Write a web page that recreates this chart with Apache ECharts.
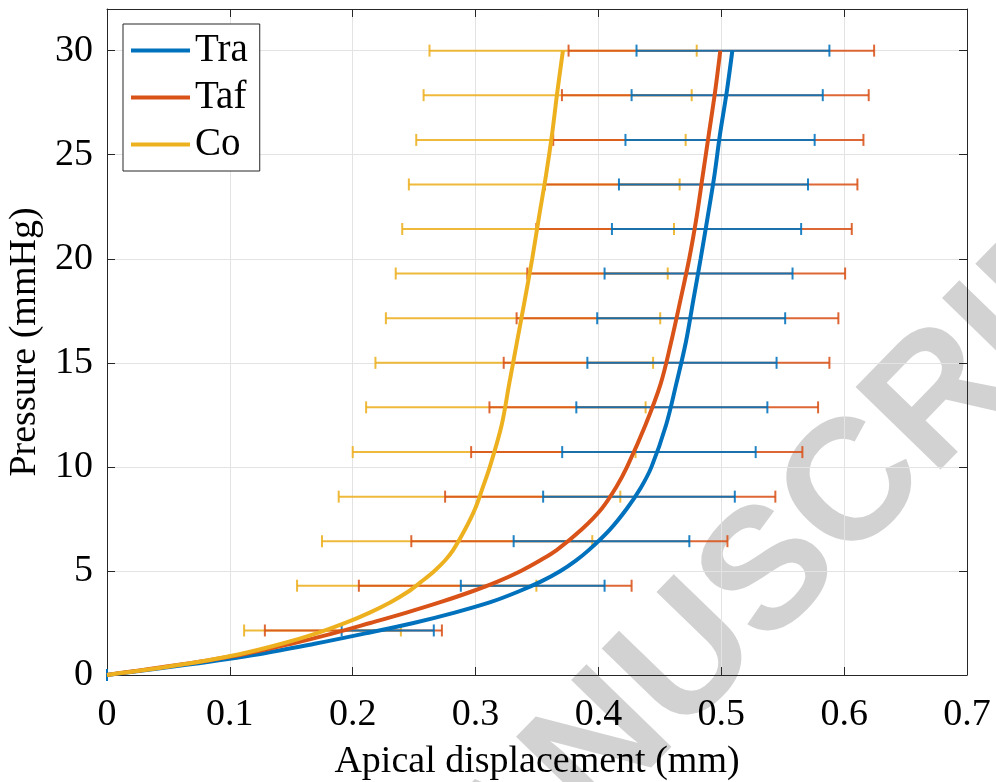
<!DOCTYPE html>
<html>
<head>
<meta charset="utf-8">
<script src="https://cdn.jsdelivr.net/npm/echarts@6/dist/echarts.min.js"></script>
<style>
html,body{margin:0;padding:0;background:#fff;}
#chart{width:996px;height:782px;}
</style>
</head>
<body>
<div id="chart"></div>
<script>
// ---- Data ----
const seriesNames = ['Tra', 'Taf', 'Co'];
const xTicks = ['0', '0.1', '0.2', '0.3', '0.4', '0.5', '0.6', '0.7'];
const yTicks = ['0', '5', '10', '15', '20', '25', '30'];

// pressure levels where error bars are drawn (mmHg)
const pressureLevels = [0, 2.14, 4.29, 6.43, 8.57, 10.71, 12.86, 15, 17.14, 19.29, 21.43, 23.57, 25.71, 27.86, 30];

// error bar extents (mm)
const traLow  = [0, 0.191, 0.288, 0.331, 0.355, 0.3705, 0.382, 0.391, 0.399, 0.405, 0.411, 0.4167, 0.422, 0.427, 0.431];
const traHigh = [0, 0.266, 0.405, 0.474, 0.511, 0.528, 0.5375, 0.545, 0.552, 0.558, 0.565, 0.5706, 0.576, 0.5826, 0.588];
const tafLow  = [0, 0.1285, 0.205, 0.2477, 0.2752, 0.2964, 0.3113, 0.3229, 0.3334, 0.3421, 0.3494, 0.3565, 0.3632, 0.3703, 0.3757];
const tafHigh = [0, 0.2726, 0.427, 0.505, 0.544, 0.566, 0.5788, 0.588, 0.5953, 0.6008, 0.6062, 0.6108, 0.6157, 0.620, 0.6244];
const coLow   = [0, 0.1116, 0.1547, 0.175, 0.1886, 0.200, 0.2109, 0.2185, 0.227, 0.235, 0.2403, 0.2457, 0.2517, 0.2577, 0.2625];
const coHigh  = [0, 0.2392, 0.3495, 0.395, 0.4178, 0.4302, 0.4384, 0.4445, 0.4503, 0.4564, 0.4615, 0.4661, 0.471, 0.4759, 0.480];

// fitted curves: displacement (mm) at these pressures (mmHg)
const curvePressure = [0, 0.5, 1, 1.5, 2, 2.5, 3, 3.5, 4, 4.5, 5, 5.5, 6, 7, 8, 9, 10, 12, 14, 16, 18, 20, 22, 24, 26, 28, 30];
const traCurve = [0, 0.066, 0.1235, 0.169, 0.2104, 0.2495, 0.283, 0.3121, 0.3345, 0.3535, 0.3691, 0.3816, 0.3921, 0.4095, 0.4232, 0.4345, 0.4432, 0.455, 0.4634, 0.4712, 0.4772, 0.4832, 0.4889, 0.4944, 0.499, 0.5044, 0.509];
const tafCurve = [0, 0.060, 0.111, 0.150, 0.184, 0.2143, 0.2438, 0.2713, 0.2963, 0.3184, 0.3369, 0.3524, 0.366, 0.3865, 0.4028, 0.4142, 0.4233, 0.4382, 0.4507, 0.4592, 0.4667, 0.4739, 0.4799, 0.4849, 0.4899, 0.4949, 0.4992];
const coCurve  = [0, 0.061, 0.1077, 0.1422, 0.1705, 0.194, 0.2138, 0.2308, 0.245, 0.2562, 0.2665, 0.2751, 0.2817, 0.2915, 0.2997, 0.3058, 0.3116, 0.3212, 0.3274, 0.3337, 0.340, 0.3461, 0.3516, 0.3573, 0.3623, 0.3665, 0.3711];

// ---- Styling ----
const colors = { Tra: '#0072BD', Taf: '#D95319', Co: '#EDB120' };
const FONT = '"Liberation Serif", "Times New Roman", serif';
const AXC = '#262626';

function pairs(xs, ys) { return xs.map((x, i) => [x, ys[i]]); }
function errData(lo, hi) { return lo.map((l, i) => [l, hi[i], pressureLevels[i]]); }

function errRender(color) {
  return function (params, api) {
    const a = api.coord([api.value(0), api.value(2)]);
    const b = api.coord([api.value(1), api.value(2)]);
    const h = 6;
    const st = { stroke: color, lineWidth: 2, opacity: 0.88 };
    return {
      type: 'group',
      children: [
        { type: 'line', shape: { x1: a[0], y1: a[1], x2: b[0], y2: b[1] }, style: st },
        { type: 'line', shape: { x1: a[0], y1: a[1] - h, x2: a[0], y2: a[1] + h }, style: st },
        { type: 'line', shape: { x1: b[0], y1: b[1] - h, x2: b[0], y2: b[1] + h }, style: st }
      ]
    };
  };
}

function errSeries(name, lo, hi, z) {
  return {
    name: name + ' error', type: 'custom', data: errData(lo, hi),
    renderItem: errRender(colors[name]), encode: { x: [0, 1], y: 2 },
    z: z, silent: true
  };
}
function lineSeries(name, xs, z) {
  return {
    name: name, type: 'line', data: pairs(xs, curvePressure),
    smooth: 0.35, showSymbol: false, symbol: 'none',
    lineStyle: { color: colors[name], width: 4 }, itemStyle: { color: colors[name] },
    z: z
  };
}

const chart = echarts.init(document.getElementById('chart'), null, { renderer: 'canvas' });
chart.setOption({
  animation: false,
  backgroundColor: '#ffffff',
  textStyle: { fontFamily: FONT },
  graphic: [{
    type: 'text', x: 772, y: 575, rotation: 0.80, z: -10, silent: true,
    style: {
      text: 'MANUSCRIPT', fontSize: 172, fontWeight: 'bold',
      fontFamily: '"Liberation Sans", Arial, sans-serif',
      fill: '#d2d2d2', textAlign: 'center', textVerticalAlign: 'middle'
    }
  }],
  grid: { left: 107, right: 29, top: 9, bottom: 107, containLabel: false, outerBoundsMode: 'none' },
  legend: {
    data: seriesNames, orient: 'vertical', left: 123, top: 24,
    icon: 'rect', itemWidth: 59, itemHeight: 4, itemGap: 8,
    padding: [7, 12, 7, 8],
    backgroundColor: '#ffffff', borderColor: AXC, borderWidth: 1,
    textStyle: { fontFamily: FONT, fontSize: 39, color: '#000', lineHeight: 38 }
  },
  xAxis: [{
    type: 'value', min: 0, max: 0.7, interval: 0.1, position: 'bottom',
    name: 'Apical displacement (mm)', nameLocation: 'middle', nameGap: 68,
    nameTextStyle: { fontFamily: FONT, fontSize: 38, color: '#000' },
    axisLine: { show: true, onZero: false, lineStyle: { color: AXC, width: 1 } },
    axisTick: { show: true, inside: true, length: 8, lineStyle: { color: AXC } },
    axisLabel: {
      fontFamily: FONT, fontSize: 38, color: '#000', margin: 21,
      formatter: v => xTicks[Math.round(v * 10)] ?? ''
    },
    splitLine: { show: true, lineStyle: { color: '#e3e3e3', width: 1 } }
  }, {
    type: 'value', min: 0, max: 0.7, interval: 0.1, position: 'top',
    axisLine: { show: true, onZero: false, lineStyle: { color: AXC, width: 1 } },
    axisTick: { show: true, inside: true, length: 8, lineStyle: { color: AXC } },
    axisLabel: { show: false }, splitLine: { show: false }
  }],
  yAxis: [{
    type: 'value', min: 0, max: 32, interval: 5, position: 'left',
    name: 'Pressure (mmHg)', nameLocation: 'middle', nameGap: 56, nameRotate: 90,
    nameTextStyle: { fontFamily: FONT, fontSize: 38, color: '#000' },
    axisLine: { show: true, onZero: false, lineStyle: { color: AXC, width: 1 } },
    axisTick: { show: true, inside: true, length: 8, lineStyle: { color: AXC } },
    axisLabel: {
      fontFamily: FONT, fontSize: 38, color: '#000', margin: 14, showMaxLabel: false,
      formatter: v => (v % 5 === 0 ? (yTicks[v / 5] ?? '') : '')
    },
    splitLine: { show: true, lineStyle: { color: '#e3e3e3', width: 1 } }
  }, {
    type: 'value', min: 0, max: 32, interval: 5, position: 'right',
    axisLine: { show: true, onZero: false, lineStyle: { color: AXC, width: 1 } },
    axisTick: { show: true, inside: true, length: 8, lineStyle: { color: AXC } },
    axisLabel: { show: false }, splitLine: { show: false }
  }],
  series: [
    errSeries('Co', coLow, coHigh, 3),
    errSeries('Taf', tafLow, tafHigh, 4),
    errSeries('Tra', traLow, traHigh, 5),
    lineSeries('Tra', traCurve, 6),
    lineSeries('Taf', tafCurve, 7),
    lineSeries('Co', coCurve, 8)
  ]
});
</script>
</body>
</html>
